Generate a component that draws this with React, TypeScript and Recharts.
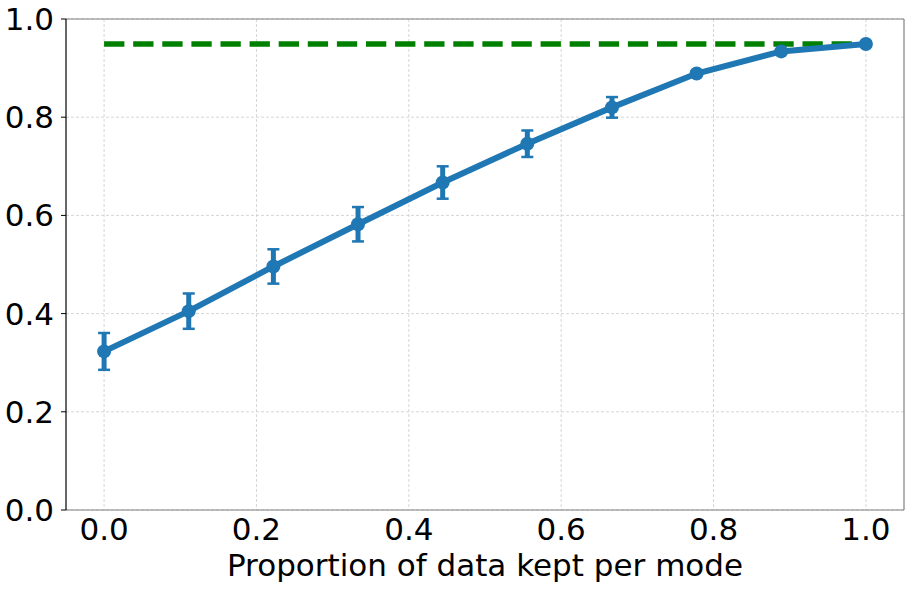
import React from "react";
import {
  LineChart,
  Line,
  XAxis,
  YAxis,
  CartesianGrid,
  ErrorBar,
  ReferenceLine,
} from "recharts";

const proportions = [0, 1 / 9, 2 / 9, 3 / 9, 4 / 9, 5 / 9, 6 / 9, 7 / 9, 8 / 9, 1];
const accuracy = [0.323, 0.405, 0.496, 0.582, 0.667, 0.746, 0.82, 0.889, 0.934, 0.949];
const accuracyErr = [0.0375, 0.036, 0.035, 0.035, 0.033, 0.027, 0.021, 0.005, 0.003, 0.004];
const baselineX = [0, 1];
const baselineValue = 0.949;
const xTicks = [0, 0.2, 0.4, 0.6, 0.8, 1.0];
const yTicks = [0, 0.2, 0.4, 0.6, 0.8, 1.0];
const xLabel = "Proportion of data kept per mode";

const mainData = proportions.map((x, i) => ({ x, y: accuracy[i], err: accuracyErr[i] }));
const baselineData = baselineX.map((x) => ({ x, y: baselineValue }));

const FONT = "'DejaVu Sans', sans-serif";
const BLUE = "#1f77b4";

export default function App() {
  return (
    <div style={{ position: "absolute", left: 0, top: 0, width: 913, height: 591, background: "#fff" }}>
      <LineChart
        width={913}
        height={591}
        margin={{ top: 19, right: 9, bottom: 0, left: 0 }}
      >
        <CartesianGrid
          stroke="#cccccc"
          strokeDasharray="3 2"
          strokeWidth={0.8}
          horizontalValues={yTicks}
          verticalValues={xTicks}
        />
        <XAxis
          type="number"
          dataKey="x"
          domain={[-0.05, 1.05]}
          ticks={xTicks}
          allowDataOverflow
          tickFormatter={(v: number) => v.toFixed(1)}
          tickLine={false}
          tickSize={0}
          tickMargin={8}
          height={81}
          axisLine={{ stroke: "#808080", strokeWidth: 1.2 }}
          tick={{ fill: "#000", fontSize: 31, fontFamily: FONT }}
          label={{
            value: xLabel,
            position: "insideBottom",
            offset: 15,
            fill: "#000",
            fontSize: 31,
            fontFamily: FONT,
          }}
        />
        <YAxis
          type="number"
          domain={[0, 1]}
          ticks={yTicks}
          allowDataOverflow
          tickFormatter={(v: number) => v.toFixed(1)}
          width={66}
          tickSize={5}
          tickMargin={7}
          tickLine={{ stroke: "#000", strokeWidth: 1 }}
          axisLine={{ stroke: "#000", strokeWidth: 1.2 }}
          tick={{ fill: "#000", fontSize: 31, fontFamily: FONT }}
        />
        <ReferenceLine y={1} stroke="#808080" strokeWidth={1.2} />
        <ReferenceLine x={1.05} stroke="#808080" strokeWidth={1.2} />
        <Line
          data={baselineData}
          dataKey="y"
          type="linear"
          stroke="#008000"
          strokeWidth={5.5}
          strokeDasharray="20.3 8.8"
          dot={false}
          activeDot={false}
          isAnimationActive={false}
        />
        <Line
          data={mainData}
          dataKey="y"
          type="linear"
          stroke={BLUE}
          strokeWidth={6}
          dot={{ r: 7, fill: BLUE, stroke: BLUE, strokeWidth: 0 }}
          activeDot={false}
          isAnimationActive={false}
        >
          <ErrorBar dataKey="err" direction="y" width={0} stroke={BLUE} strokeWidth={5} isAnimationActive={false} />
          <ErrorBar dataKey="err" direction="y" width={6} stroke={BLUE} strokeWidth={2.5} isAnimationActive={false} />
        </Line>
      </LineChart>
    </div>
  );
}
